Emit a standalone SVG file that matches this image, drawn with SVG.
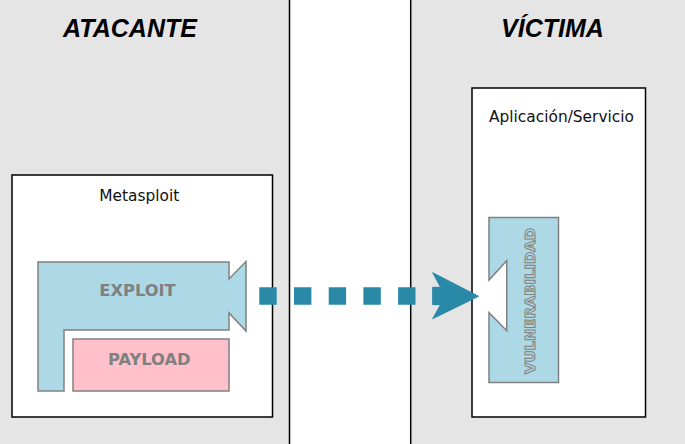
<svg xmlns="http://www.w3.org/2000/svg" width="685" height="444" viewBox="0 0 685 444">
<style>
.panel{fill:#e5e5e5;stroke:none}
.div{stroke:#000;stroke-width:1.5}
.box{fill:#fff;stroke:#000;stroke-width:1.5}
.title{font-family:"Liberation Sans",Arial,sans-serif;font-weight:bold;font-style:italic;font-size:25px;fill:#000;text-anchor:middle}
.lbl{font-family:"DejaVu Sans",sans-serif;font-size:15.4px;fill:#111;text-anchor:middle}
.part{stroke:#808080;stroke-width:1.5}
.ptxt{font-family:"DejaVu Sans",sans-serif;font-weight:bold;font-size:16.3px;fill:#808080;text-anchor:middle}
.conn{stroke:#2b89a8;fill:#2b89a8}
</style>
<g id="panels">
<rect class="panel" x="0" y="0" width="289.5" height="444"/>
<rect x="289.5" y="0" width="121.5" height="444" fill="#fff"/>
<rect class="panel" x="411" y="0" width="274" height="444"/>
<line class="div" x1="289.5" y1="0" x2="289.5" y2="444"/>
<line class="div" x1="410.7" y1="0" x2="410.7" y2="444"/>
<text class="title" x="130" y="37">ATACANTE</text>
<text class="title" x="552.5" y="37">VÍCTIMA</text>
</g>
<g id="metasploit">
<rect class="box" x="12" y="175" width="260.5" height="242"/>
<text class="lbl" x="139.3" y="200.5">Metasploit</text>
</g>
<g id="exploit">
<polygon class="part" fill="#add8e6" points="38,262 229,262 229,279 246,261.5 246,331 229,313 229,330 64,330 64,391 38,391"/>
<text class="ptxt" x="137.5" y="296">EXPLOIT</text>
</g>
<g id="payload">
<rect class="part" fill="#ffc0cb" x="73" y="339" width="156" height="52"/>
<text class="ptxt" x="149.3" y="365">PAYLOAD</text>
</g>
<g id="aplicacion">
<rect class="box" x="472" y="88" width="173.5" height="329"/>
<text class="lbl" x="561.5" y="122">Aplicación/Servicio</text>
</g>
<g id="vulnerabilidad">
<polygon class="part" fill="#add8e6" points="489,217.5 558.5,217.5 558.5,382.5 489,382.5 489,312.7 506.7,330.7 506.7,260.7 489,280"/>
<text transform="translate(535,301) rotate(-90)" font-family="DejaVu Sans,sans-serif" font-weight="bold" font-size="14.8" text-anchor="middle" fill="#add8e6" stroke="#808080" stroke-width="1">VULNERABILIDAD</text>
</g>
<g id="connectors">
<line class="conn" x1="259.3" y1="296" x2="441" y2="296" stroke-width="17.4" stroke-dasharray="17.4 17.3"/>
<polygon class="conn" stroke="none" points="432.7,272.7 478.5,296.3 432.7,318.7 440.5,304.7 432.7,304.7 432.7,287.3 440.5,287.3"/>
</g>
</svg>
